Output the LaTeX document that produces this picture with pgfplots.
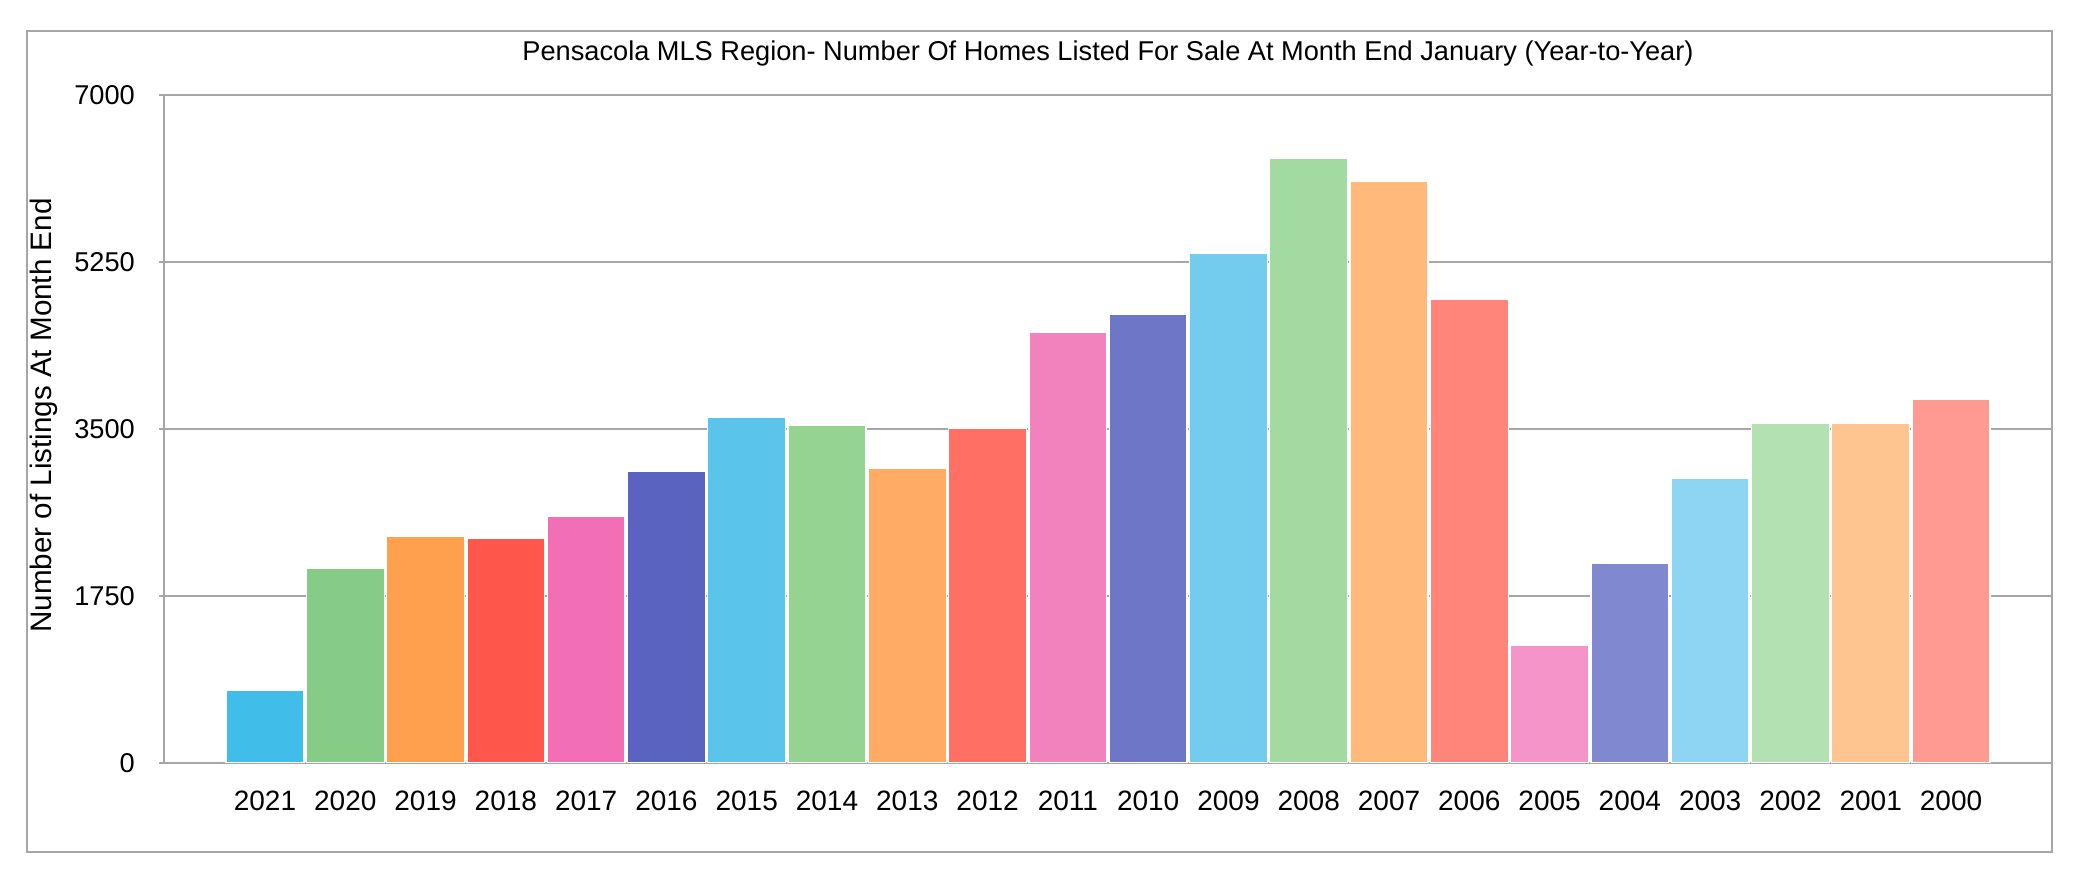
\documentclass[border=0pt]{standalone}
\usepackage{fontspec}
\setmainfont{Liberation Sans}
\usepackage{pgfplots}
\pgfplotsset{compat=1.18}

\definecolor{linegray}{HTML}{A6A6A6}
\definecolor{c2021}{HTML}{41BDEA}
\definecolor{c2020}{HTML}{86CB86}
\definecolor{c2019}{HTML}{FFA04E}
\definecolor{c2018}{HTML}{FF574B}
\definecolor{c2017}{HTML}{F26EB5}
\definecolor{c2016}{HTML}{5A63BF}
\definecolor{c2015}{HTML}{5AC4EA}
\definecolor{c2014}{HTML}{95D393}
\definecolor{c2013}{HTML}{FFAB66}
\definecolor{c2012}{HTML}{FF6F63}
\definecolor{c2011}{HTML}{F282BE}
\definecolor{c2010}{HTML}{6E76C7}
\definecolor{c2009}{HTML}{73CCEE}
\definecolor{c2008}{HTML}{A2DAA2}
\definecolor{c2007}{HTML}{FFB97B}
\definecolor{c2006}{HTML}{FF857B}
\definecolor{c2005}{HTML}{F594C8}
\definecolor{c2004}{HTML}{8088CF}
\definecolor{c2003}{HTML}{8DD5F2}
\definecolor{c2002}{HTML}{B3E1B1}
\definecolor{c2001}{HTML}{FFC591}
\definecolor{c2000}{HTML}{FF9A92}

\begin{document}
\begin{tikzpicture}[x=1pt,y=1pt]
\useasboundingbox (0,0) rectangle (522,221);
% outer frame
\draw[linegray, line width=0.5pt] (6.75,8) rectangle (513,213.25);
\begin{axis}[
    at={(41pt,30.25pt)}, anchor=south west,
    scale only axis, width=472pt, height=167pt,
    xmin=-1.258, xmax=22.258, ymin=0, ymax=7000,
    ybar, bar width=0.97, bar shift=0pt,
    axis line style={linegray, line width=0.5pt},
    ymajorgrids, grid style={linegray, line width=0.5pt},
    ytick={0,1750,3500,5250,7000},
    ytick pos=left, tick align=outside, major tick length=1.25pt,
    ytick style={linegray, line width=0.5pt},
    xtick={0,...,21},
    xticklabels={2021,2020,2019,2018,2017,2016,2015,2014,2013,2012,2011,2010,2009,2008,2007,2006,2005,2004,2003,2002,2001,2000},
    xtick style={draw=none},
    /pgf/number format/assume math mode=true,
    /pgf/number format/1000 sep={},
    xticklabel style={font=\fontsize{7}{8}\selectfont, yshift=-2.3pt},
    yticklabel style={font=\fontsize{6.8}{8}\selectfont, xshift=-2.5pt},
    title={Pensacola MLS Region- Number Of Homes Listed For Sale At Month End January (Year-to-Year)},
    title style={font=\fontsize{6.8}{8}\selectfont, at={(0.5,1)}, anchor=base, yshift=2.7pt},
    ylabel={Number of Listings At Month End},
    ylabel style={font=\fontsize{7.4}{8}\selectfont, at={(axis description cs:-0.0636,0.52)}, anchor=center},
    every axis plot/.append style={draw=white, line width=0.3pt},
]
\addplot[fill=c2021] coordinates {(0,765)};
\addplot[fill=c2020] coordinates {(1,2043)};
\addplot[fill=c2019] coordinates {(2,2379)};
\addplot[fill=c2018] coordinates {(3,2354)};
\addplot[fill=c2017] coordinates {(4,2588)};
\addplot[fill=c2016] coordinates {(5,3060)};
\addplot[fill=c2015] coordinates {(6,3626)};
\addplot[fill=c2014] coordinates {(7,3542)};
\addplot[fill=c2013] coordinates {(8,3090)};
\addplot[fill=c2012] coordinates {(9,3507)};
\addplot[fill=c2011] coordinates {(10,4517)};
\addplot[fill=c2010] coordinates {(11,4696)};
\addplot[fill=c2009] coordinates {(12,5338)};
\addplot[fill=c2008] coordinates {(13,6340)};
\addplot[fill=c2007] coordinates {(14,6091)};
\addplot[fill=c2006] coordinates {(15,4859)};
\addplot[fill=c2005] coordinates {(16,1237)};
\addplot[fill=c2004] coordinates {(17,2096)};
\addplot[fill=c2003] coordinates {(18,2987)};
\addplot[fill=c2002] coordinates {(19,3563)};
\addplot[fill=c2001] coordinates {(20,3563)};
\addplot[fill=c2000] coordinates {(21,3814)};
\end{axis}
\end{tikzpicture}
\end{document}
